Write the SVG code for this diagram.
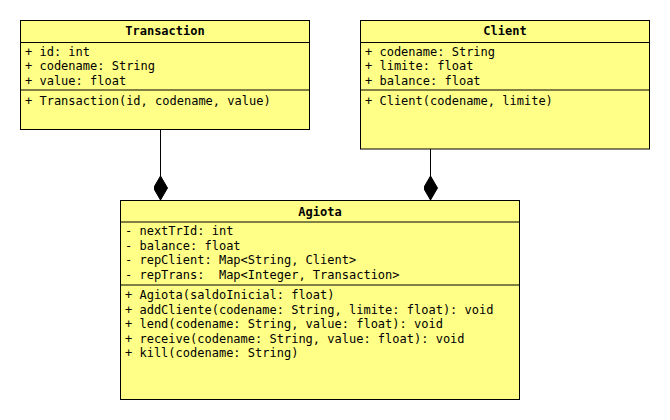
<svg xmlns="http://www.w3.org/2000/svg" width="670" height="420" viewBox="0 0 670 420">
  <style>
    .box { fill: #ffff88; stroke: #000; stroke-width: 1; }
    .sep { stroke: #000; stroke-width: 1; fill: none; }
    .t { font-family: "DejaVu Sans Mono", "Liberation Mono", monospace; font-size: 12px; fill: #000; }
    .title { font-family: "DejaVu Sans Mono", "Liberation Mono", monospace; font-size: 12px; font-weight: bold; fill: #000; text-anchor: middle; }
    .edge { stroke: #000; stroke-width: 1; fill: none; marker-end: url(#diamond); }
  </style>
  <defs>
    <marker id="diamond" markerUnits="userSpaceOnUse" viewBox="0 0 24 14" refX="24" refY="7" markerWidth="24" markerHeight="14" orient="auto">
      <path d="M0 7 L12 0 L24 7 L12 14 Z" fill="#000" stroke="#000" stroke-width="1"/>
    </marker>
  </defs>
  <rect width="670" height="420" fill="#fff"/>
  <g id="connectors">
    <path class="edge" d="M160.5 130 L160.5 200"/>
    <path class="edge" d="M430.5 149 L430.5 200"/>
  </g>
  <g id="Transaction">
    <rect class="box" x="20.5" y="20.5" width="289" height="109"/>
    <line class="sep" x1="20.5" y1="42.5" x2="309.5" y2="42.5"/>
    <line class="sep" x1="20.5" y1="90" x2="309.5" y2="90"/>
    <text class="title" x="165" y="35">Transaction</text>
    <text class="t" x="25" y="55.5">+ id: int</text>
    <text class="t" x="25" y="70">+ codename: String</text>
    <text class="t" x="25" y="84.5">+ value: float</text>
    <text class="t" x="25" y="104.5">+ Transaction(id, codename, value)</text>
  </g>
  <g id="Client">
    <rect class="box" x="360.5" y="20.5" width="289" height="128.5"/>
    <line class="sep" x1="360.5" y1="42.5" x2="649.5" y2="42.5"/>
    <line class="sep" x1="360.5" y1="90" x2="649.5" y2="90"/>
    <text class="title" x="505" y="35">Client</text>
    <text class="t" x="365" y="55.5">+ codename: String</text>
    <text class="t" x="365" y="70">+ limite: float</text>
    <text class="t" x="365" y="84.5">+ balance: float</text>
    <text class="t" x="365" y="104.5">+ Client(codename, limite)</text>
  </g>
  <g id="Agiota">
    <rect class="box" x="120.5" y="200.5" width="399" height="199"/>
    <line class="sep" x1="120.5" y1="222" x2="519.5" y2="222"/>
    <line class="sep" x1="120.5" y1="285" x2="519.5" y2="285"/>
    <text class="title" x="320" y="215.5">Agiota</text>
    <text class="t" x="125" y="235">- nextTrId: int</text>
    <text class="t" x="125" y="249.5">- balance: float</text>
    <text class="t" x="125" y="264">- repClient: Map&lt;String, Client&gt;</text>
    <text class="t" x="125" y="278.5" xml:space="preserve">- repTrans:  Map&lt;Integer, Transaction&gt;</text>
    <text class="t" x="125" y="299">+ Agiota(saldoInicial: float)</text>
    <text class="t" x="125" y="313.5">+ addCliente(codename: String, limite: float): void</text>
    <text class="t" x="125" y="328">+ lend(codename: String, value: float): void</text>
    <text class="t" x="125" y="342.5">+ receive(codename: String, value: float): void</text>
    <text class="t" x="125" y="357">+ kill(codename: String)</text>
  </g>
</svg>
